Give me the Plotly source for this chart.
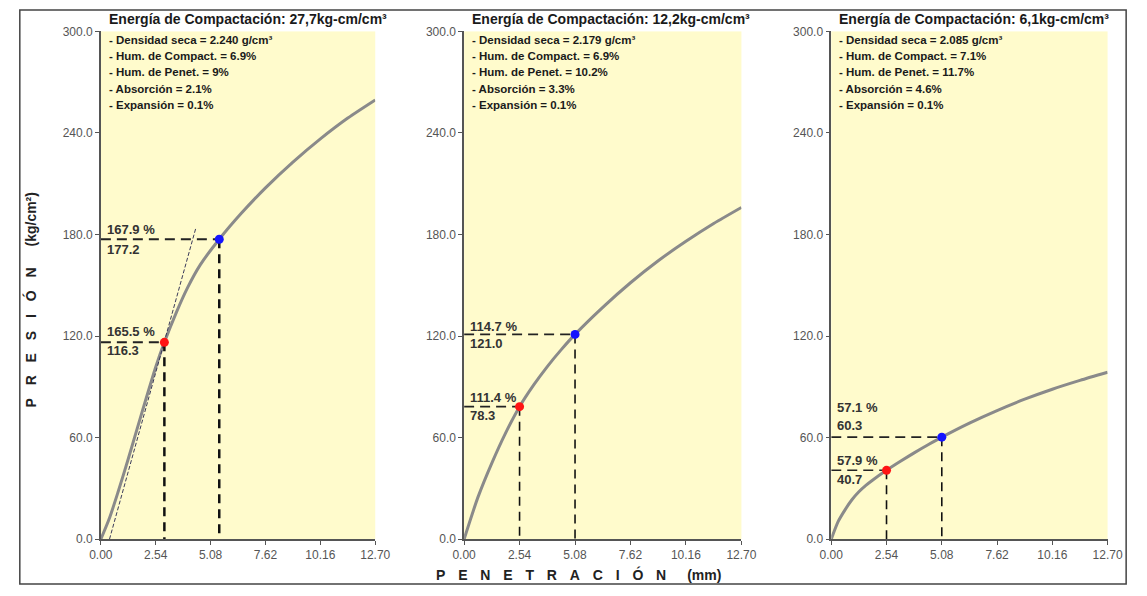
import plotly.graph_objects as go

# ---- data -------------------------------------------------------------
x_ticks = [0.00, 2.54, 5.08, 7.62, 10.16, 12.70]
y_ticks = [0, 60, 120, 180, 240, 300]

# penetration (mm) and pressure (kg/cm2) curves
pen_1 = [0, 0.40, 0.80, 1.27, 1.91, 2.54, 2.94, 3.50, 4.02, 4.60, 5.48, 6.50, 7.62, 8.89, 10.16, 11.43, 12.70]
pres_1 = [0, 12.5, 28, 47.5, 75.2, 101.7, 116.3, 134.2, 148.8, 162.1, 177.2, 192.5, 207.6, 222.8, 236.5, 248.8, 259.5]

pen_2 = [0, 0.64, 1.27, 1.91, 2.54, 3.18, 3.81, 4.45, 5.08, 6.35, 7.62, 8.89, 10.16, 11.43, 12.70]
pres_2 = [0, 25, 45, 63, 78.3, 91, 102, 112, 121.0, 137, 151.5, 164.5, 176, 186.5, 196]

pen_3 = [0, 0.32, 0.64, 0.95, 1.27, 1.59, 1.91, 2.54, 3.18, 3.81, 4.45, 5.08, 6.35, 7.62, 8.89, 10.16, 11.43, 12.70]
pres_3 = [0, 10.5, 17.5, 23.3, 28, 31.8, 35, 40.7, 46, 51, 55.8, 60.3, 68.6, 76, 82.7, 88.6, 93.8, 98.6]

# tangent used for the origin correction of the first curve
tangent_pen = [0.40, 4.40]
tangent_pres = [0, 184]

# reference penetrations and corrections
ref_pen = [2.54, 5.08]
correction = [0.40, 0.0, 0.0]

# pressures and CBR at the reference penetrations
ref_pres = [[116.3, 177.2], [78.3, 121.0], [40.7, 60.3]]
cbr = [[165.5, 167.9], [111.4, 114.7], [57.9, 57.1]]

titles = ["Energía de Compactación: 27,7kg-cm/cm³",
          "Energía de Compactación: 12,2kg-cm/cm³",
          "Energía de Compactación: 6,1kg-cm/cm³"]
densidad = ["2.240", "2.179", "2.085"]
hum_compact = ["6.9%", "6.9%", "7.1%"]
hum_penet = ["9%", "10.2%", "11.7%"]
absorcion = ["2.1%", "3.3%", "4.6%"]
expansion = ["0.1%", "0.1%", "0.1%"]

curves = [(pen_1, pres_1), (pen_2, pres_2), (pen_3, pres_3)]

# ---- layout helpers ---------------------------------------------------
W, H = 1147, 596


def fx(px):
    return px / W


def fy(py):
    return 1 - py / H


panel_px = [(91, 372), (463, 747), (839, 1122)]
y_dom = [fy(545), fy(25)]

BG = "#fffbcc"
AXIS = "#555555"
CURVE = "#8a8a8a"
TXT = "#2b2b2b"
FONT = "Liberation Sans, Arial, sans-serif"
NARROW = "Liberation Sans Narrow, Arial Narrow, Liberation Sans, Arial, sans-serif"

fig = go.Figure()
layout = dict(
    width=W, height=H,
    margin=dict(l=0, r=0, t=0, b=0),
    paper_bgcolor="white",
    plot_bgcolor=BG,
    showlegend=False,
    font=dict(family=FONT, color=TXT),
)

annotations = []
shapes = []

# label offsets (px) for the percentage and pressure labels of each point
label_shift = [
    [(11, -8), (10, -10)],
    [(9, -9), (8, -9)],
    [(10, -9), (30, 12)],
]

tick_font = dict(size=12, color="#555", family=FONT)

for i in range(3):
    n = "" if i == 0 else str(i + 1)
    xa, ya = "x" + n, "y" + n
    x0p, x1p = panel_px[i]

    layout["xaxis" + n] = dict(
        domain=[fx(x0p), fx(x1p)], range=[0, 12.70], anchor=ya,
        tickvals=x_ticks, ticktext=[f"{v:.2f}" for v in x_ticks],
        showgrid=False, zeroline=False, showline=True,
        linecolor=AXIS, linewidth=1.5, ticks="outside", ticklen=4,
        tickcolor=AXIS, tickfont=tick_font, fixedrange=True,
    )
    layout["yaxis" + n] = dict(
        domain=y_dom, range=[0, 300], anchor=xa,
        tickvals=y_ticks, ticktext=[f"{v:.1f}" for v in y_ticks],
        showgrid=False, zeroline=False, showline=True,
        linecolor=AXIS, linewidth=1.5, ticks="outside", ticklen=4,
        tickcolor=AXIS, tickfont=tick_font, fixedrange=True,
    )

    pen, pres = curves[i]
    fig.add_trace(go.Scatter(
        x=pen, y=pres, mode="lines", xaxis=xa, yaxis=ya,
        line=dict(color=CURVE, width=3, shape="spline", smoothing=0.7),
        hoverinfo="skip"))

    if i == 0:
        fig.add_trace(go.Scatter(
            x=tangent_pen, y=tangent_pres, mode="lines", xaxis=xa, yaxis=ya,
            line=dict(color="#3a3a5a", width=1, dash="4px,2px"),
            hoverinfo="skip"))

    vw = 2.5 if i == 0 else 1.6
    hw = 2.0 if i == 0 else 1.6
    for k in range(2):
        px_ = ref_pen[k] + correction[i]
        py_ = ref_pres[i][k]
        # dashed guides to the axes
        fig.add_trace(go.Scatter(
            x=[0, px_], y=[py_, py_], mode="lines", xaxis=xa, yaxis=ya,
            line=dict(color="#222", width=hw, dash="10px,6px"),
            hoverinfo="skip"))
        fig.add_trace(go.Scatter(
            x=[px_, px_], y=[py_, 0], mode="lines", xaxis=xa, yaxis=ya,
            line=dict(color="#111", width=vw, dash="9px,6px"),
            hoverinfo="skip"))
        fig.add_trace(go.Scatter(
            x=[px_], y=[py_], mode="markers", xaxis=xa, yaxis=ya,
            marker=dict(size=9, color="#ff1414" if k == 0 else "#1414ff"),
            hoverinfo="skip"))

        up, down = label_shift[i][k]
        annotations.append(dict(
            x=0, y=py_, xref=xa, yref=ya, xanchor="left", yanchor="middle",
            xshift=4, yshift=up, showarrow=False,
            text=f"<b>{cbr[i][k]:.1f} %</b>",
            font=dict(size=13, color="#333", family=FONT)))
        annotations.append(dict(
            x=0, y=py_, xref=xa, yref=ya, xanchor="left", yanchor="middle",
            xshift=4, yshift=down, showarrow=False,
            text=f"<b>{py_:.1f}</b>",
            font=dict(size=13, color="#333", family=FONT)))

    # header and summary lines
    annotations.append(dict(
        x=fx(x0p + 6), y=fy(12), xref="paper", yref="paper", xanchor="left",
        yanchor="middle", showarrow=False, text=f"<b>{titles[i]}</b>",
        font=dict(size=14, color="#1a1a1a", family=FONT)))
    lines = [
        f"- Densidad seca = {densidad[i]} g/cm³",
        f"- Hum. de Compact. = {hum_compact[i]}",
        f"- Hum. de Penet. = {hum_penet[i]}",
        f"- Absorción = {absorcion[i]}",
        f"- Expansión = {expansion[i]}",
    ]
    for j, t in enumerate(lines):
        annotations.append(dict(
            x=fx(x0p + 6), y=fy(34 + j * 16.5), xref="paper", yref="paper",
            xanchor="left", yanchor="middle", showarrow=False,
            text=f"<b>{t}</b>",
            font=dict(size=11.5, color="#1a1a1a", family=NARROW)))

sp = "\u2002\u2005\u2006"
annotations.append(dict(
    x=fx(580), y=fy(581), xref="paper", yref="paper", xanchor="center",
    yanchor="middle", showarrow=False,
    text="<b>" + sp.join("PENETRACIÓN") + "\u2003\u2002(mm)</b>",
    font=dict(size=14, color="#222", family=FONT)))
annotations.append(dict(
    x=fx(19), y=fy(300), xref="paper", yref="paper", xanchor="center",
    yanchor="middle", showarrow=False, textangle=-90,
    text="<b>" + sp.join("PRESIÓN") + "\u2003\u2002(kg/cm²)</b>",
    font=dict(size=14, color="#222", family=FONT)))

# outer frame
shapes.append(dict(type="rect", xref="paper", yref="paper",
                   x0=fx(8), x1=fx(1141), y0=fy(591), y1=fy(3),
                   line=dict(color="#444", width=1.5), layer="above"))

layout["annotations"] = annotations
layout["shapes"] = shapes
fig.update_layout(**layout)

fig.write_html("out.html")
